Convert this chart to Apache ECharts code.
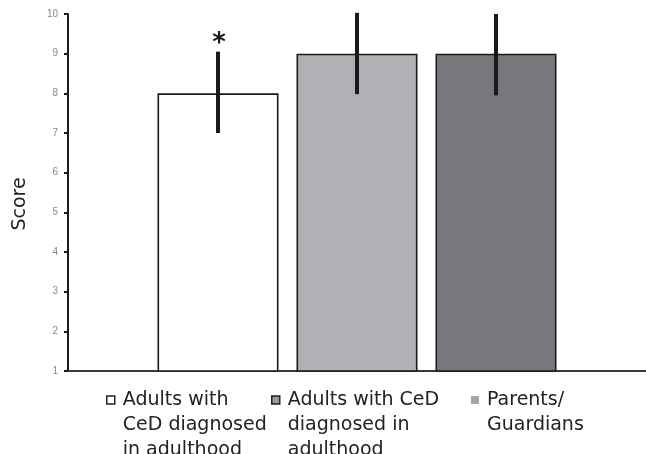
<!DOCTYPE html>
<html>
<head>
<meta charset="utf-8">
<script src="https://cdn.jsdelivr.net/npm/echarts@6/dist/echarts.min.js"></script>
<style>html,body{margin:0;padding:0;background:#fff}#c{width:646px;height:454px}</style>
</head>
<body>
<div id="c"></div>
<script>
// ---- data ----
const categories = [''];
const seriesNames = ['Adults with\nCeD diagnosed\nin adulthood', 'Adults with CeD\ndiagnosed in\nadulthood', 'Parents/\nGuardians'];
const meanScores = [8, 9, 9];
const errorLow = [7, 7.98, 7.95];
const errorHigh = [9.05, 10.03, 10];
const significance = ['*', '', ''];
const yTicks = [1, 10, 1]; // min, max, interval

// ---- styles ----
const FONT = 'DejaVu Sans';
const BAR_W = 121;
const GAP_PX = 18;
const LINE_H = 25;
const barColors = ['#ffffff', '#b0b1b4', '#77787c'];
const legendIcons = [
  {color: '#ffffff', borderColor: '#222', borderWidth: 1.5},
  {color: '#9a9b9e', borderColor: '#222', borderWidth: 1.5},
  {color: '#a6a7aa', borderColor: '#a6a7aa', borderWidth: 0}
];
const legendLeft = [106, 271, 471];

const chart = echarts.init(document.getElementById('c'), null, {renderer: 'canvas'});

const barSeries = seriesNames.map((n, i) => ({
  name: n,
  type: 'bar',
  data: [meanScores[i]],
  barWidth: BAR_W,
  barGap: (GAP_PX / BAR_W * 100) + '%',
  itemStyle: {color: barColors[i], borderColor: '#1a1a1a', borderWidth: 1.6},
  emphasis: {disabled: true},
  animation: false
}));

const errData = meanScores.map((m, i) => [0, errorLow[i], errorHigh[i], i]);

const errSeries = {
  type: 'custom',
  data: errData,
  z: 10,
  animation: false,
  renderItem: function (params, api) {
    const g = api.value(3);
    const off = (g - 1) * (BAR_W + GAP_PX);
    const lo = api.coord([api.value(0), api.value(1)]);
    const hi = api.coord([api.value(0), api.value(2)]);
    const x = lo[0] + off;
    const children = [{
      type: 'line',
      shape: {x1: x, y1: lo[1], x2: x, y2: hi[1]},
      style: {stroke: '#1a1a1a', lineWidth: 4}
    }];
    if (significance[g]) {
      children.push({
        type: 'text',
        style: {text: significance[g], x: x + 1, y: hi[1] + 6, align: 'center', verticalAlign: 'bottom',
          font: 'bold 26px ' + FONT, fill: '#1a1a1a'}
      });
    }
    return {type: 'group', children: children};
  }
};

const legends = seriesNames.map((n, i) => {
  const lines = n.split('\n').length;
  // item height chosen so that the icon sits on the first text line
  const h = lines * LINE_H - LINE_H + 8;
  return {
    show: true,
    left: legendLeft[i],
    top: 396 - ((lines * LINE_H) / 2 - h / 2),
    padding: 0,
    orient: 'horizontal',
    itemWidth: 8,
    itemHeight: h,
    itemGap: 0,
    selectedMode: false,
    icon: 'path://M0,0H8V8H0ZM0,' + h + 'L0,' + h,
    data: [{name: n, itemStyle: legendIcons[i]}],
    textStyle: {fontFamily: FONT, fontSize: 19, color: '#222', lineHeight: LINE_H, padding: [0, 0, 0, 3]}
  };
});

chart.setOption({
  animation: false,
  backgroundColor: '#fff',
  grid: {left: 68, right: -4, top: 14, bottom: 83, containLabel: false},
  legend: legends,
  xAxis: {
    type: 'category',
    data: categories,
    axisLine: {show: true, lineStyle: {color: '#3a3a3a', width: 2}},
    axisTick: {show: false},
    axisLabel: {show: false},
    splitLine: {show: false}
  },
  yAxis: {
    type: 'value',
    min: yTicks[0],
    max: yTicks[1],
    interval: yTicks[2],
    axisLine: {show: true, lineStyle: {color: '#1a1a1a', width: 2}},
    axisTick: {show: true, length: 4, lineStyle: {color: '#1a1a1a', width: 2}},
    axisLabel: {fontFamily: 'Liberation Sans', fontSize: 10, color: '#888', margin: 10},
    splitLine: {show: false}
  },
  graphic: [{
    type: 'text',
    x: 20, y: 204,
    rotation: Math.PI / 2,
    style: {text: 'Score', font: '19px ' + FONT, fill: '#222', align: 'center', verticalAlign: 'middle'}
  }],
  series: barSeries.concat([errSeries])
});
</script>
</body>
</html>
